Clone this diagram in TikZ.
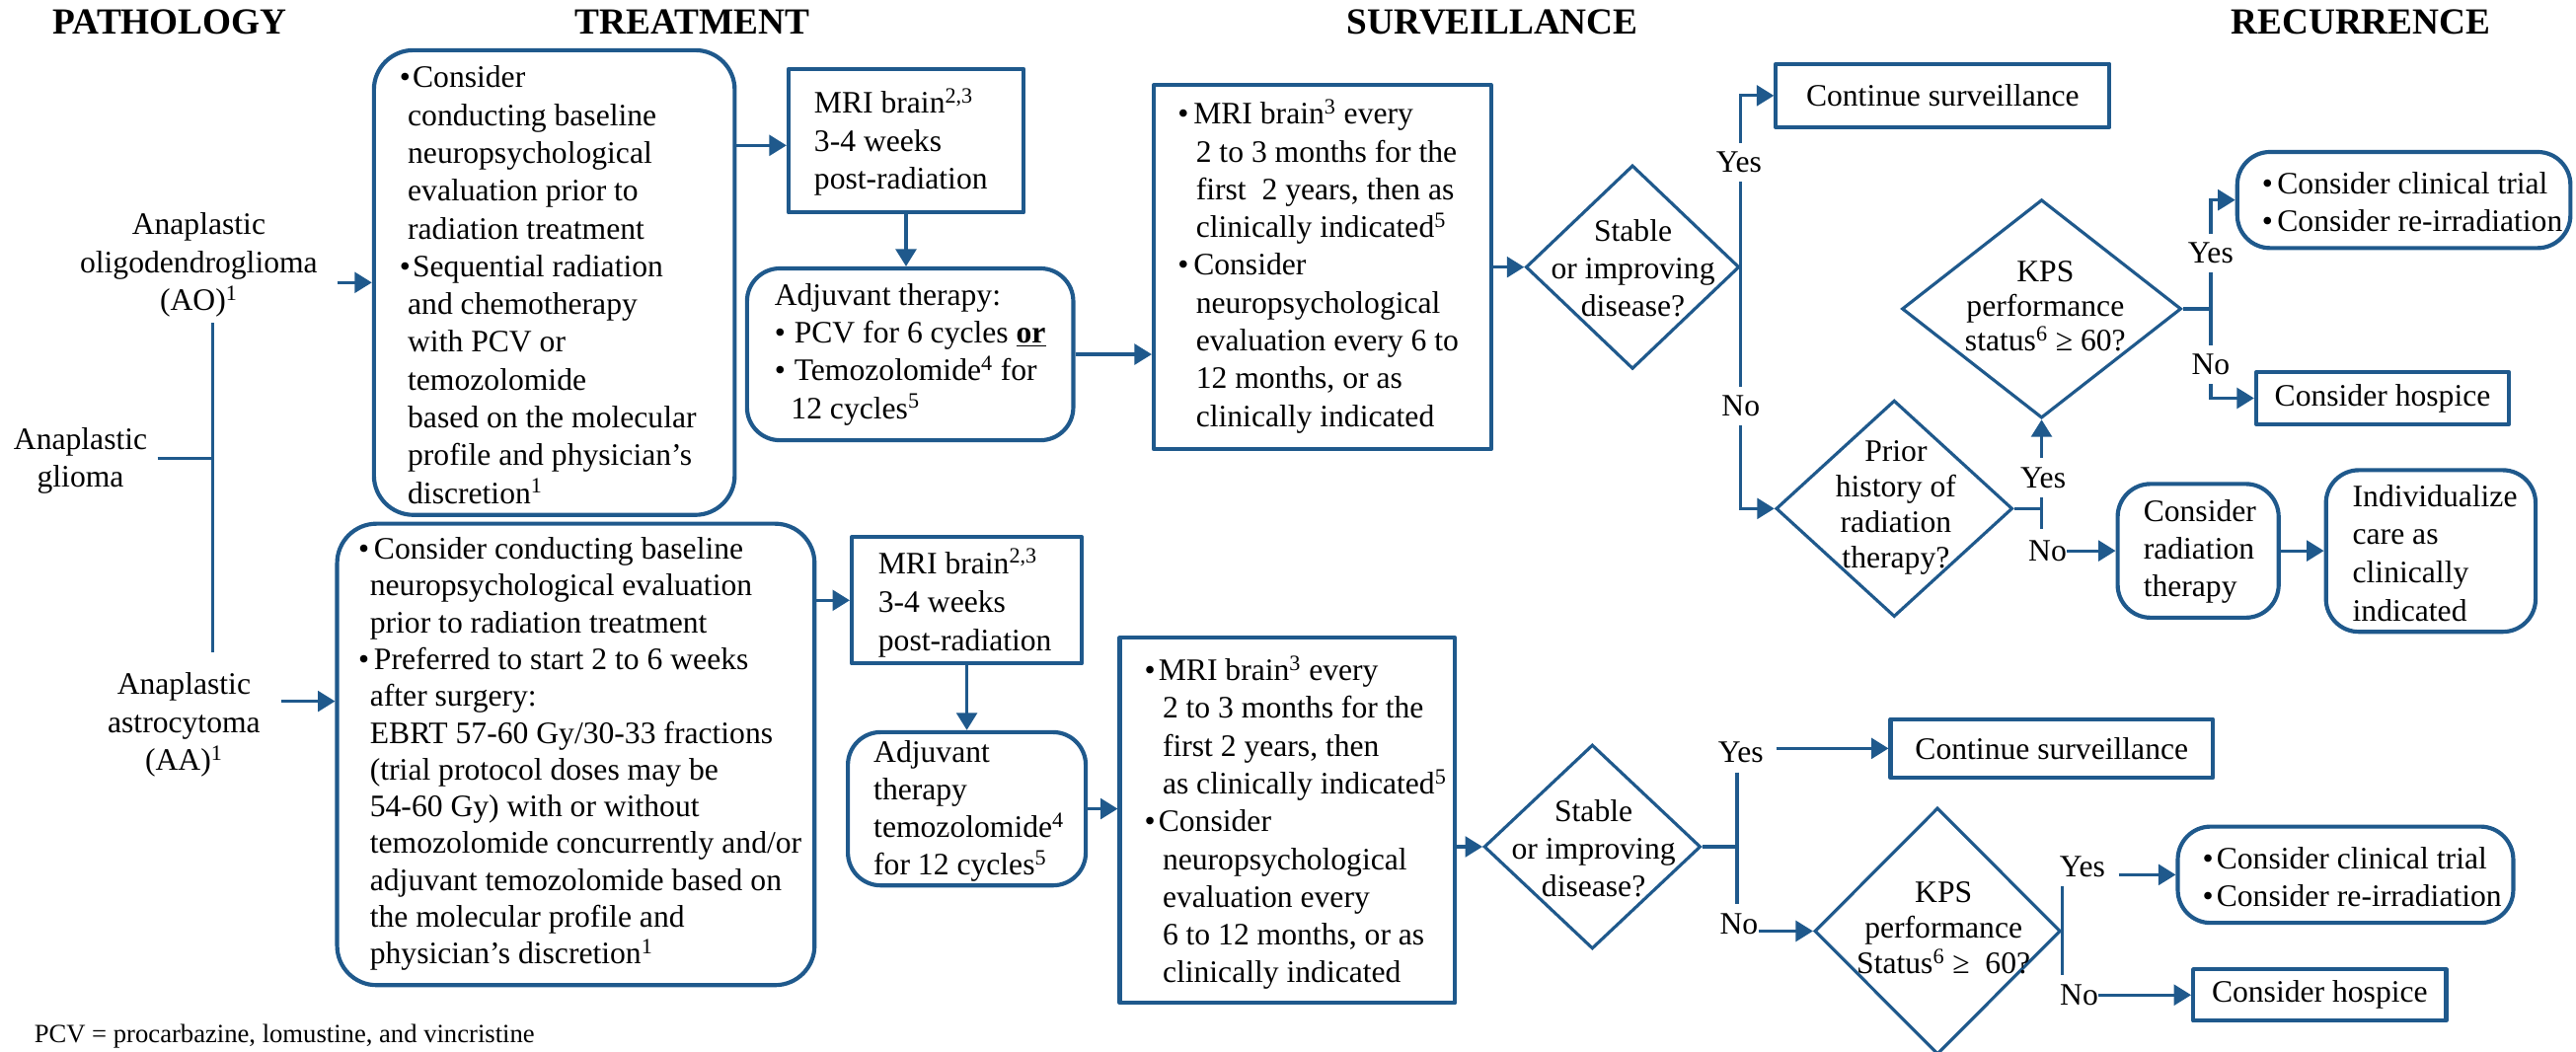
\documentclass[tikz,border=0pt]{standalone}
\usepackage{fontspec}
\setmainfont{Liberation Serif}
\usetikzlibrary{shapes.geometric,arrows.meta}
\definecolor{flow}{RGB}{31,89,140}

% bullet with its own indent, and indent for follow-on lines
\newcommand{\bu}[1][9.5pt]{\makebox[#1][l]{\textbullet}}
\newcommand{\ind}[1]{\hspace*{#1pt}}

\begin{document}
\begin{tikzpicture}[x=1pt,y=-1pt,
  every node/.style={inner sep=0pt},
  body/.style={font=\fontsize{19}{23}\selectfont, align=left, anchor=west},
  ctext/.style={font=\fontsize{19}{23}\selectfont, align=center},
  head/.style={font=\fontsize{22.4}{26}\selectfont\bfseries, anchor=base},
  sqbox/.style={draw=flow, line width=2.5pt, line join=round, rectangle, font=\fontsize{19}{23}\selectfont},
  rdbox/.style={sqbox, rounded corners=20pt},
  dec/.style={draw=flow, line width=1.9pt, diamond},
  conn/.style={draw=flow, line width=1.9pt},
  arr/.style={conn, -{Triangle[length=10.5pt,width=12.5pt]}},
  yn/.style={font=\fontsize{19}{23}\selectfont, fill=white, inner xsep=2pt, inner ysep=5.5pt},
  yn2/.style={font=\fontsize{19}{23}\selectfont, inner xsep=0pt, inner ysep=5.5pt},
]
\useasboundingbox (0,0) rectangle (1568,640);

% ---------- column headings ----------
\node[head] (hpath) at (103.5,20.7) {PATHOLOGY};
\node[head] (htreat) at (421.5,20.7) {TREATMENT};
\node[head] (hsurv) at (908.5,20.7) {SURVEILLANCE};
\node[head] (hrec) at (1437,20.7) {RECURRENCE};

% ---------- pathology ----------
\node[ctext] (ao) at (121,161.4) {Anaplastic\\oligodendroglioma\\(AO)\textsuperscript{1}};
\node[ctext] (ag) at (49,280.4) {Anaplastic\\glioma};
\node[ctext] (aa) at (112,441.3) {Anaplastic\\astrocytoma\\(AA)\textsuperscript{1}};

\coordinate (jt) at (129.6,196.6);
\coordinate (jm) at (129.6,279);
\coordinate (jb) at (129.6,397);
\draw[conn] (jt) -- (jb);
\draw[conn, shorten <=6pt] (ag.east |- jm) -- (jm);

% ---------- oligodendroglioma track ----------
\node[rdbox, rounded corners=24pt, minimum width=219.6pt, minimum height=282.9pt] (t1) at (337.4,172) {};
\node[body] (t1x) at (243,173.4) {\bu[8pt]Consider\\\ind{5}conducting baseline\\\ind{5}neuropsychological\\\ind{5}evaluation prior to\\\ind{5}radiation treatment\\\bu[8pt]Sequential radiation\\\ind{5}and chemotherapy\\\ind{5}with PCV or\\\ind{5}temozolomide\\\ind{5}based on the molecular\\\ind{5}profile and physician’s\\\ind{5}discretion\textsuperscript{1}};

\node[sqbox, minimum width=143pt, minimum height=87.3pt] (m1) at (551.5,85.7) {};
\node[body] (m1x) at (495.4,86.5) {MRI brain\textsuperscript{2,3}\\3-4 weeks\\post-radiation};

\node[rdbox, minimum width=198.6pt, minimum height=104.6pt] (j1) at (554,215.7) {};
\node[body] (j1x) at (471.3,215.85) {Adjuvant therapy:\\\bu[12pt]PCV for 6 cycles \textbf{\underline{or}}\\\bu[12pt]Temozolomide\textsuperscript{4} for\\\ind{10}12 cycles\textsuperscript{5}};

\node[sqbox, minimum width=205.2pt, minimum height=221.8pt] (s1) at (804.9,162.6) {};
\node[body] (s1x) at (716.8,162.05) {\bu MRI brain\textsuperscript{3} every\\\ind{11}2 to 3 months for the\\\ind{11}first \ 2 years, then as\\\ind{11}clinically indicated\textsuperscript{5}\\\bu Consider\\\ind{11}neuropsychological\\\ind{11}evaluation every 6 to\\\ind{11}12 months, or as\\\ind{11}clinically indicated};

\node[dec, minimum width=130pt, minimum height=124pt] (d1) at (993.7,162.6) {};
\node[ctext, font=\fontsize{19}{22.75}\selectfont] (d1x) at (994,163.05) {Stable\\or improving\\disease?};

\node[sqbox, minimum width=203pt, minimum height=38.7pt] (cs1) at (1182.5,58.2) {Continue surveillance};

\node[dec, minimum width=144pt, minimum height=131.8pt] (pr) at (1153,309.6) {};
\node[ctext, font=\fontsize{19}{21.6}\selectfont] (prx) at (1154,309.2) {Prior\\history of\\radiation\\therapy?};

\node[dec, minimum width=170pt, minimum height=133pt] (k1) at (1242.7,188) {};
\node[ctext, font=\fontsize{19}{21.2}\selectfont] (k1x) at (1245,186.4) {KPS\\performance\\status\textsuperscript{6} ≥ 60?};

\node[rdbox, minimum width=202.8pt, minimum height=58.5pt] (tr1) at (1463.2,121.75) {};
\node[body] (tr1x) at (1376.7,122.75) {\bu[9.3pt]Consider clinical trial\\\bu[9.3pt]Consider re-irradiation};

\node[sqbox, minimum width=153.9pt, minimum height=31.6pt] (h1) at (1450.25,242.4) {Consider hospice};

\node[rdbox, minimum width=98pt, minimum height=81.4pt] (cr) at (1338,335.3) {};
\node[body, font=\fontsize{19}{22.8}\selectfont] (crx) at (1304.5,336) {Consider\\radiation\\therapy};

\node[rdbox, minimum width=127.6pt, minimum height=98.4pt] (iv) at (1479.6,335.4) {};
\node[body, font=\fontsize{19}{23.2}\selectfont] (ivx) at (1431.8,336.65) {Individualize\\care as\\clinically\\indicated};

% connectors, upper track
\draw[arr, shorten <=11.7pt] (ao.east |- t1.west) -- (t1.west);
\coordinate (y1) at (0,88.5);
\draw[arr] (t1.east |- y1) -- (m1.west |- y1);
\draw[arr] (m1.south) -- (m1.south |- j1.north);
\draw[arr] (j1.east) -- (j1.east -| s1.west);
\draw[arr] (s1.east |- d1.west) -- (d1.west);
\draw[arr] (d1.east) |- (cs1.west);
\draw[arr] (d1.east) |- (pr.west);
\node[yn] (yes1) at (1058.5,98.75) {Yes};
\node[yn] (no1) at (1059.6,247.25) {No};

\draw[conn] (pr.east) -- (pr.east -| k1.south);
\coordinate (pby) at (0,322);
\coordinate (pb) at (k1.south |- pby);
\draw[arr] (pb) -- (k1.south);
\node[yn] (yes2) at (1243.6,290.7) {Yes};
\node[yn2, inner ysep=0pt] (no2) at (1246.3,335.3) {No};
\draw[arr] (no2.east |- cr.west) -- (cr.west);
\draw[arr] (cr.east) -- (cr.east -| iv.west);

\draw[conn] (k1.east) -- ++(17,0) coordinate (kb);
\draw[arr] (kb) |- (tr1.west);
\draw[arr] (kb) |- (h1.west);
\node[yn] (yes3) at (1345.6,154.2) {Yes};
\node[yn] (no3) at (1345.6,221.8) {No};

% ---------- astrocytoma track ----------
\node[rdbox, rounded corners=24pt, minimum width=290.6pt, minimum height=280.9pt] (t2) at (350.5,459.25) {};
\node[body, font=\fontsize{19}{22.4}\selectfont] (t2x) at (218,459.1) {\bu Consider conducting baseline\\\ind{7}neuropsychological evaluation\\\ind{7}prior to radiation treatment\\\bu Preferred to start 2 to 6 weeks\\\ind{7}after surgery:\\\ind{7}EBRT 57-60 Gy/30-33 fractions\\\ind{7}(trial protocol doses may be\\\ind{7}54-60 Gy) with or without\\\ind{7}temozolomide concurrently and/or\\\ind{7}adjuvant temozolomide based on\\\ind{7}the molecular profile and\\\ind{7}physician’s discretion\textsuperscript{1}};

\node[sqbox, minimum width=140pt, minimum height=76.9pt] (m2) at (588.5,365.45) {};
\node[body, font=\fontsize{19}{23.5}\selectfont] (m2x) at (534.4,367.2) {MRI brain\textsuperscript{2,3}\\3-4 weeks\\post-radiation};

\node[rdbox, minimum width=144.8pt, minimum height=93.3pt] (j2) at (588.5,492.35) {};
\node[body, font=\fontsize{19}{22.8}\selectfont] (j2x) at (531.6,493.85) {Adjuvant\\therapy\\temozolomide\textsuperscript{4}\\for 12 cycles\textsuperscript{5}};

\node[sqbox, minimum width=204.1pt, minimum height=222.4pt] (s2) at (783.65,499.4) {};
\node[body] (s2x) at (696.5,500.85) {\bu[8.5pt]MRI brain\textsuperscript{3} every\\\ind{11}2 to 3 months for the\\\ind{11}first 2 years, then\\\ind{11}as clinically indicated\textsuperscript{5}\\\bu[8.5pt]Consider\\\ind{11}neuropsychological\\\ind{11}evaluation every\\\ind{11}6 to 12 months, or as\\\ind{11}clinically indicated};

\node[dec, minimum width=131.9pt, minimum height=124.3pt] (d3) at (969.25,515.45) {};
\node[ctext, font=\fontsize{19}{22.8}\selectfont] (d3x) at (970,516.6) {Stable\\or improving\\disease?};

\node[sqbox, minimum width=196.1pt, minimum height=35.8pt] (cs2) at (1248.85,455.6) {Continue surveillance};

\node[dec, minimum width=149.7pt, minimum height=150.2pt] (d4) at (1179.35,566.8) {};
\node[ctext, font=\fontsize{19}{21.7}\selectfont] (d4x) at (1183,564.85) {KPS\\performance\\Status\textsuperscript{6} ≥ \ 60?};

\node[rdbox, minimum width=204.2pt, minimum height=58.6pt] (tr2) at (1427.7,532.5) {};
\node[body] (tr2x) at (1340.5,534) {\bu[8.5pt]Consider clinical trial\\\bu[8.5pt]Consider re-irradiation};

\node[sqbox, minimum width=154pt, minimum height=31.4pt] (h2) at (1412,605.7) {Consider hospice};

% connectors, lower track
\coordinate (aay) at (0,426.9);
\draw[arr, shorten <=12.3pt] (aa.east |- aay) -- (t2.west |- aay);
\draw[arr] (t2.east |- m2.west) -- (m2.west);
\draw[arr] (m2.south) -- (j2.north);
\draw[arr] (j2.east) -- (j2.east -| s2.west);
\draw[arr] (s2.east |- d3.west) -- (d3.west);

\coordinate (db) at (1057.3,515.45);
\draw[conn] (d3.east) -- (db);
\node[yn2] (yes4) at (1059.6,458.2) {Yes};
\node[yn2] (no4) at (1058.5,562.3) {No};
\draw[conn] (db |- yes4.south) -- (db |- no4.north);
\draw[arr, shorten <=7.5pt] (yes4.east |- cs2.west) -- (cs2.west);
\draw[arr] (no4.east |- d4.west) -- (d4.west);

\node[yn2] (yes5) at (1267.6,527.6) {Yes};
\node[yn2] (no5) at (1265.5,605.7) {No};
\draw[conn] (d4.east |- yes5.south) -- (d4.east |- no5.north);
\draw[arr, shorten <=8pt] (yes5.east |- tr2.west) -- (tr2.west);
\draw[arr] (no5.east |- h2.west) -- (h2.west);

% ---------- footnote ----------
\node[font=\fontsize{16}{19}\selectfont, anchor=base west] (fn) at (20.7,634.4) {PCV = procarbazine, lomustine, and vincristine};

\end{tikzpicture}
\end{document}
